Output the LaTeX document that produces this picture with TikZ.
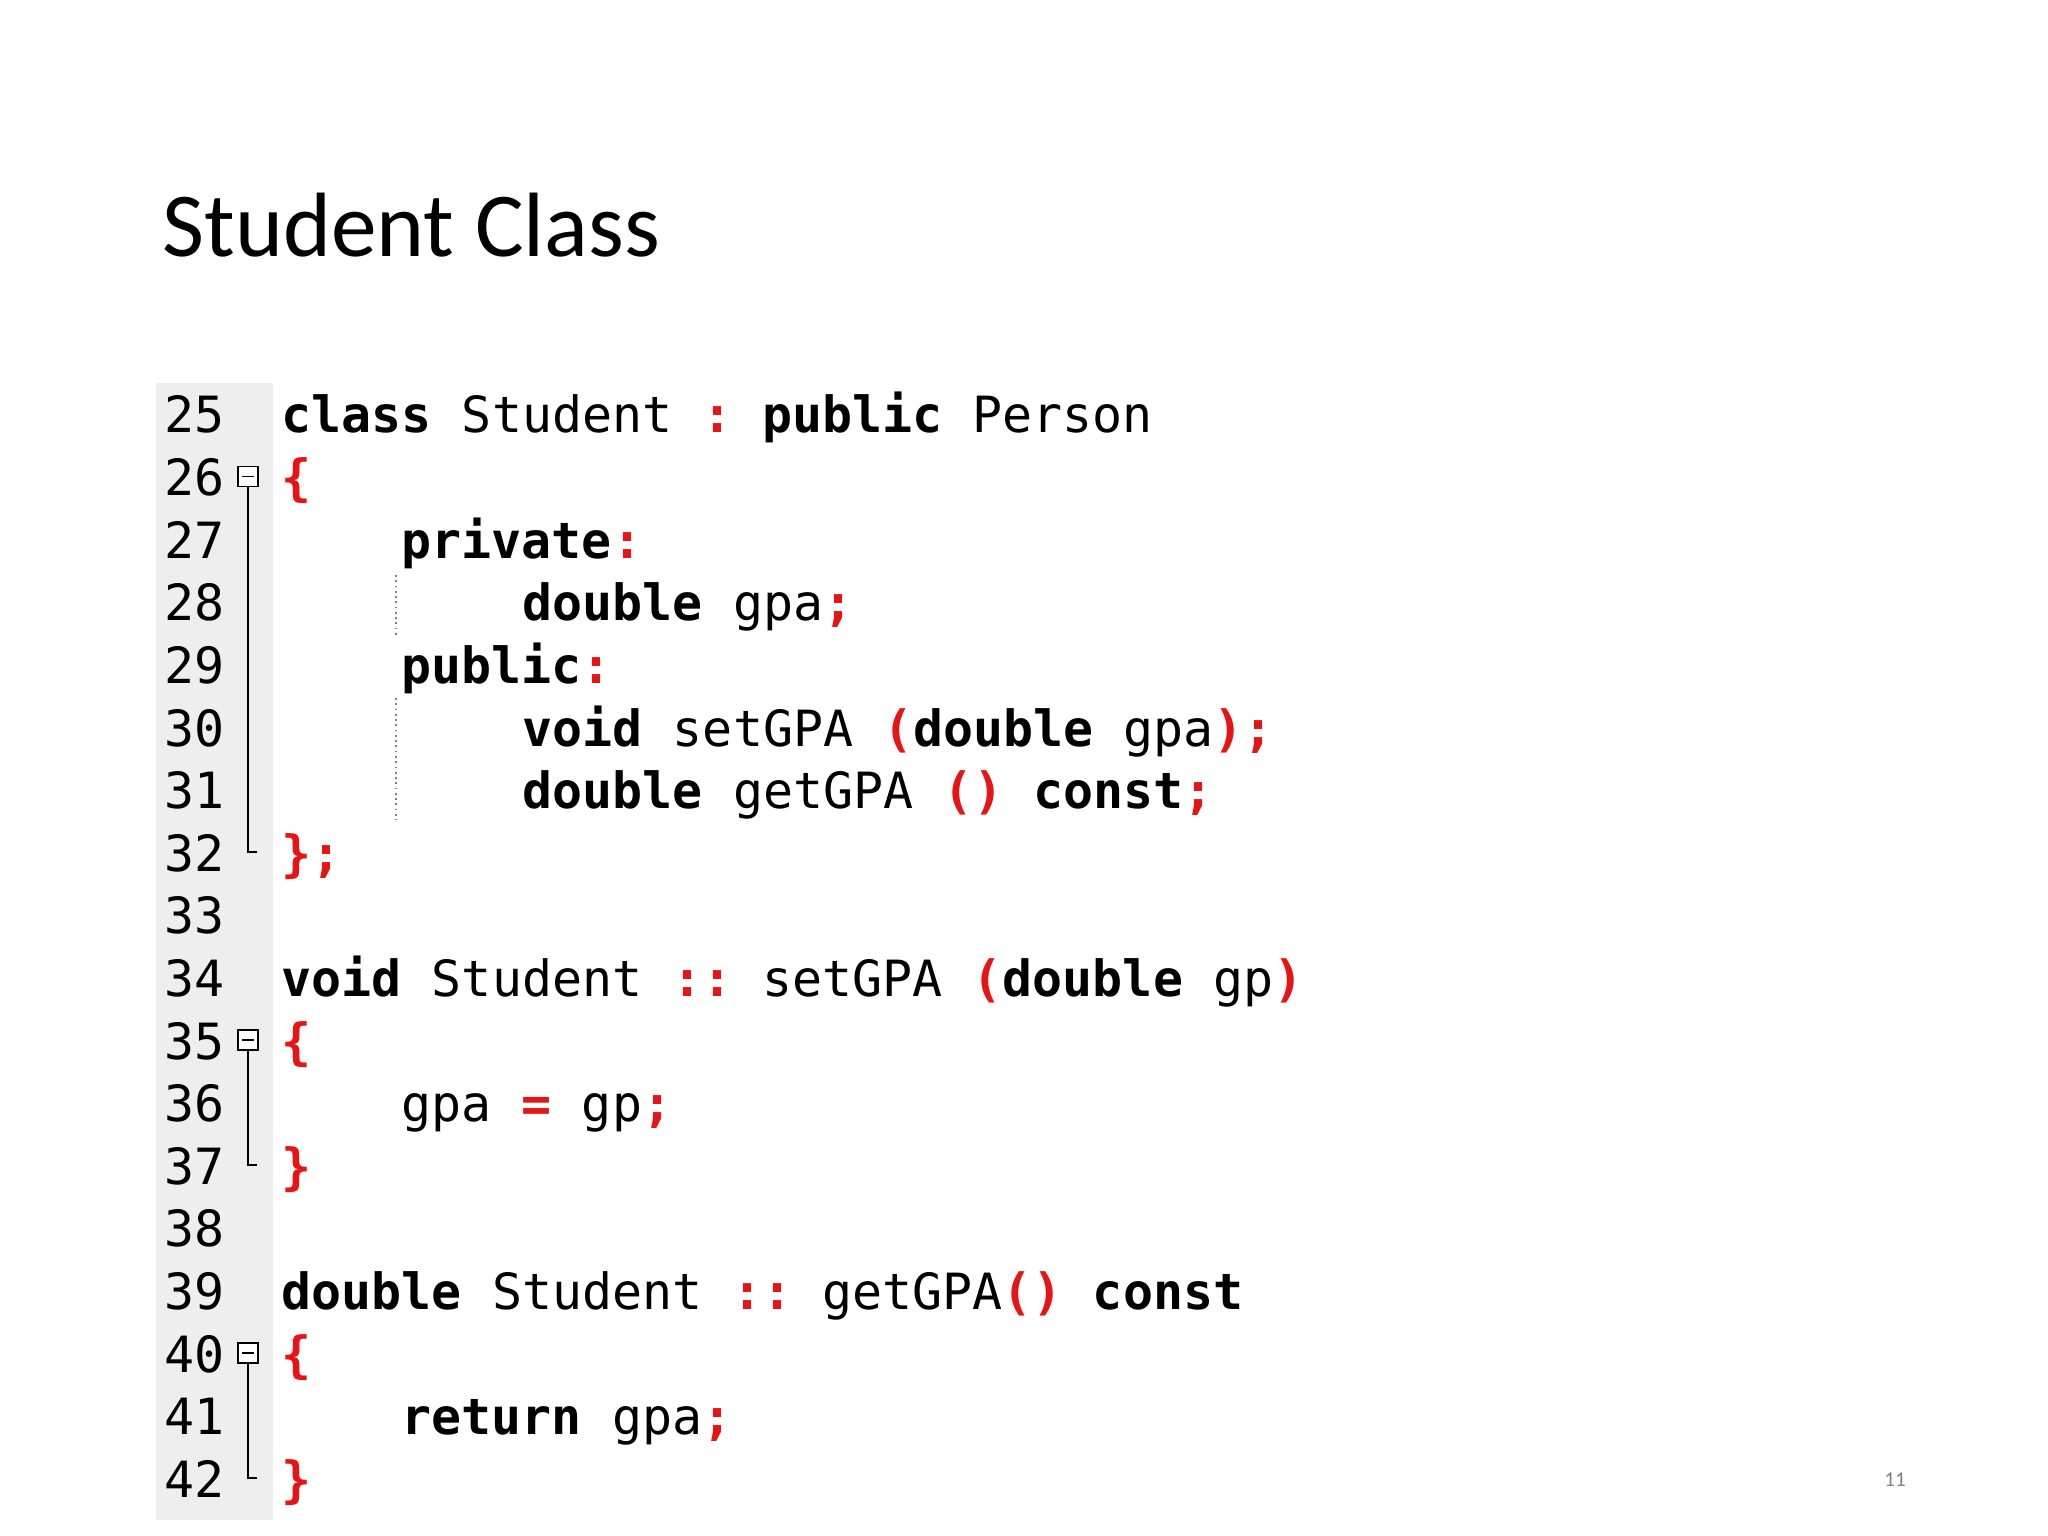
\documentclass[tikz,border=0pt]{standalone}
\usepackage{fontspec}
\setmainfont{Carlito}
\setmonofont{DejaVu Sans Mono}
\definecolor{cred}{RGB}{230,20,20}
\definecolor{gut}{RGB}{238,238,238}
\newcommand\kw[1]{\textbf{#1}}
\newcommand\rd[1]{\textcolor{cred}{\textbf{#1}}}
\tikzset{code/.style={anchor=base west,inner sep=0pt,font=\fontsize{14.2pt}{16pt}\ttfamily},
 num/.style={anchor=base west,inner sep=0pt,font=\fontsize{14.2pt}{16pt}\ttfamily},
 foldbox/.style={draw,minimum size=0.2cm,inner sep=0pt,line width=0.5pt}}
\begin{document}
\begin{tikzpicture}
\useasboundingbox (0,0) rectangle (20.48,-15.36);
\fill[gut] (1.56,-3.83) rectangle (2.73,-15.20);
\node[anchor=base west,inner sep=0pt,font=\fontsize{26pt}{30pt}\selectfont\addfontfeature{}] (title) at (1.62,-2.57) {Student Class};
\node[anchor=base,inner sep=0pt,font=\fontsize{6pt}{7pt}\selectfont,text=gray] (pg) at (18.95,-14.86) {11};
\foreach \n in {25,...,42}{
  \pgfmathsetmacro\yy{-(4.33+(\n-25)*0.626)}
  \node[num] (n\n) at (1.64,\yy) {\n};
}
\newcommand\CL[3]{\pgfmathsetmacro\yy{-(4.33+(#1-25)*0.626)}\node[code] (c#1) at (#2,\yy) {#3};}
\def\xa{2.81}\def\xb{4.01}\def\xc{5.22}
\CL{25}{\xa}{\kw{class} Student \rd{:} \kw{public} Person}
\CL{26}{\xa}{\rd{\{}}
\CL{27}{\xb}{\kw{private}\rd{:}}
\CL{28}{\xc}{\kw{double} gpa\rd{;}}
\CL{29}{\xb}{\kw{public}\rd{:}}
\CL{30}{\xc}{\kw{void} setGPA \rd{(}\kw{double} gpa\rd{);}}
\CL{31}{\xc}{\kw{double} getGPA \rd{()} \kw{const}\rd{;}}
\CL{32}{\xa}{\rd{\};}}
\CL{34}{\xa}{\kw{void} Student \rd{::} setGPA \rd{(}\kw{double} gp\rd{)}}
\CL{35}{\xa}{\rd{\{}}
\CL{36}{\xb}{gpa \rd{=} gp\rd{;}}
\CL{37}{\xa}{\rd{\}}}
\CL{39}{\xa}{\kw{double} Student \rd{::} getGPA\rd{()} \kw{const}}
\CL{40}{\xa}{\rd{\{}}
\CL{41}{\xb}{\kw{return} gpa\rd{;}}
\CL{42}{\xa}{\rd{\}}}
% fold markers
\foreach \s/\e in {26/32,35/37,40/42}{
  \pgfmathsetmacro\ys{-(4.33+(\s-25)*0.626)+0.19}
  \pgfmathsetmacro\ye{-(4.33+(\e-25)*0.626)+0.19}
  \node[foldbox,fill=white] (f\s) at (2.48,\ys) {};
  \draw[line width=0.5pt] (f\s.center) ++(-0.06,0) -- ++(0.12,0);
  \draw[line width=0.6pt] (f\s.south) -- (2.48,\ye) -- (2.57,\ye);
}
\draw[densely dotted,gray,line width=0.5pt] (3.96,-5.75) -- (3.96,-6.35);
\draw[densely dotted,gray,line width=0.5pt] (3.96,-6.98) -- (3.96,-8.20);
\end{tikzpicture}
\end{document}
